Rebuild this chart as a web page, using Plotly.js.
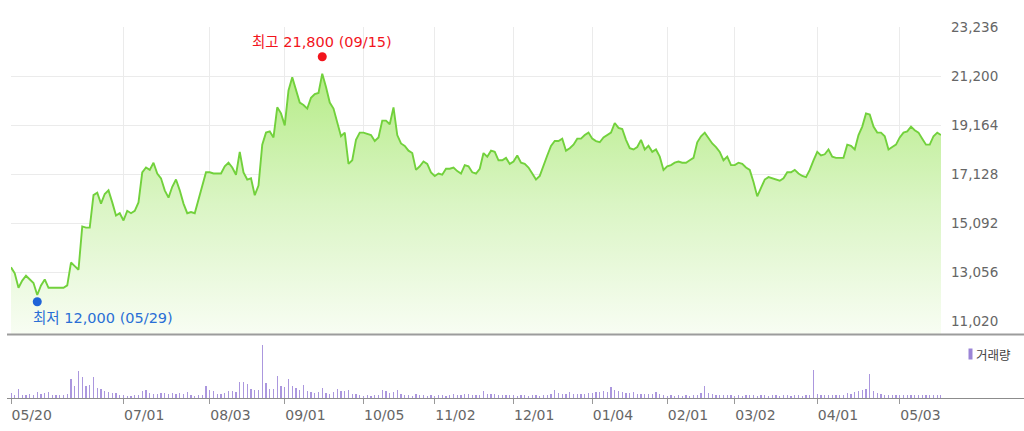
<!DOCTYPE html>
<html>
<head>
<meta charset="utf-8">
<script src="https://cdn.plot.ly/plotly-3.0.1.min.js"></script>
<style>
  html, body { margin: 0; padding: 0; background: #ffffff; }
  #chart { width: 1024px; height: 431px; }
</style>
</head>
<body>
<div id="chart"></div>
<script>
// ---- data ----
// x axis: trading-day index (0 = 05/20)
const tickIdx    = [0, 30, 53, 73, 94, 113, 134, 155, 175, 193, 215, 237];
const tickLabels = ['05/20','07/01','08/03','09/01','10/05','11/02','12/01','01/04','02/01','03/02','04/01','05/03'];

const yTicks = [11020, 13056, 15092, 17128, 19164, 21200, 23236];

// daily closing price
const closePrice = [
  13250,13000,12400,12700,12900,12750,12600,12100,12500,12750,
  12400,12400,12400,12400,12400,12500,13450,13300,13150,14950,
  14900,14900,16250,16350,15900,16300,16450,15950,15400,15500,
  15200,15600,15500,15600,15950,17200,17400,17300,17600,17150,
  16950,16450,16150,16600,16900,16450,15900,15500,15550,15500,
  16050,16650,17200,17200,17150,17150,17150,17450,17600,17400,
  17100,18050,17200,16900,16950,16250,16650,18350,18850,18900,
  18650,19900,19650,19150,20600,21150,20600,20100,20000,19850,
  20300,20450,20500,21300,20750,20100,19850,19300,18700,18850,
  17550,17700,18550,18850,18850,18800,18750,18500,18650,19350,
  19350,19200,19900,18750,18400,18300,18100,18000,17300,17450,
  17650,17550,17200,17050,17150,17100,17350,17350,17400,17250,
  17150,17500,17450,17200,17150,17350,18000,17850,18100,18050,
  17700,17700,17800,17550,17650,17900,17600,17550,17400,17150,
  16900,17050,17500,17900,18300,18500,18500,18600,18100,18200,
  18350,18600,18600,18750,18850,18600,18500,18450,18650,18750,
  18850,19250,19050,19000,18550,18200,18150,18250,18550,18150,
  18300,18050,18150,17850,17300,17450,17500,17600,17650,17600,
  17600,17700,17800,18450,18700,18850,18600,18400,18250,18050,
  17700,17850,17500,17500,17600,17550,17400,17300,16800,16200,
  16550,16900,17000,16950,16900,16850,16950,17200,17200,17300,
  17150,17050,17000,17300,17700,18050,17900,17950,18150,17850,
  17800,17800,17800,18350,18300,18150,18750,19100,19650,19600,
  19100,18850,18850,18700,18150,18250,18350,18650,18850,18900,
  19100,18950,18850,18600,18350,18350,18700,18850,18750
];

// daily volume (relative units)
const volume = [
  5,3,9,3,3,4,3,6,4,5,
  6,3,3,3,3,4,19,12,27,21,
  12,13,21,10,9,7,6,5,5,3,
  3,2,2,3,3,7,8,5,4,4,
  5,5,4,5,4,5,4,6,3,2,
  3,3,12,8,7,4,4,5,7,7,
  6,16,16,14,9,8,8,53,15,9,
  9,22,12,11,19,12,10,8,13,7,
  6,5,6,10,5,4,6,9,7,7,
  8,4,4,3,2,3,2,3,3,8,
  7,5,6,8,4,3,3,2,4,3,
  3,2,3,2,3,3,2,3,4,3,
  3,4,4,3,3,3,7,4,4,4,
  3,3,3,3,3,2,3,3,2,3,
  3,2,3,3,4,8,5,4,4,6,
  4,4,4,4,5,5,6,6,7,6,
  11,8,7,6,5,5,6,4,4,4,
  4,4,6,4,3,2,3,2,3,2,
  3,2,3,3,5,12,5,4,3,3,
  3,3,3,2,3,2,3,3,3,2,
  3,3,2,3,3,2,3,3,2,3,
  3,2,3,3,28,4,3,3,3,3,
  3,3,3,5,4,6,7,8,9,24,
  7,5,4,3,3,3,3,3,3,3,
  3,3,3,3,3,3,3,3,3
];

const highValue = 21800, highDate = '09/15';
const lowValue  = 12000, lowDate  = '05/29';
const volumeLabel = '거래량';

// ---- build chart ----
const idx = closePrice.map((_, i) => i);
const hiIdx = closePrice.indexOf(Math.max(...closePrice));
const loIdx = closePrice.indexOf(Math.min(...closePrice));
const fmt = v => v.toLocaleString('en-US');

const PL = 11, PR = 941, PT = 27, PB = 398;     // plot box in px
const PW = PR - PL, PH = PB - PT;
const px2paperX = x => (x - PL) / PW;
const px2paperY = y => (PB - y) / PH;

const priceTrace = {
  type: 'scatter', mode: 'lines',
  x: idx, y: closePrice, xaxis: 'x', yaxis: 'y',
  line: { color: '#72d13c', width: 1.9, shape: 'linear' },
  fill: 'tozeroy',
  fillgradient: {
    type: 'vertical',
    start: 10480, stop: 21300,
    colorscale: [[0, 'rgb(248,253,243)'], [0.5, 'rgb(218,245,196)'], [1, 'rgb(182,236,136)']]
  },
  hoverinfo: 'skip'
};

const volTrace = {
  type: 'bar', x: idx, y: volume, xaxis: 'x2', yaxis: 'y2',
  width: 0.38,
  marker: { color: '#ab97de', line: { width: 0 } },
  hoverinfo: 'skip'
};

const axFont = { family: 'DejaVu Sans, Noto Sans', size: 14, color: '#666' };

const layout = {
  width: 1024, height: 431,
  margin: { l: PL, r: 1024 - PR, t: PT, b: 431 - PB, pad: 0 },
  paper_bgcolor: '#ffffff', plot_bgcolor: 'rgba(0,0,0,0)',
  showlegend: false,
  bargap: 0,
  xaxis: {
    anchor: 'y', range: [0, 248], tickmode: 'array', tickvals: tickIdx, ticktext: tickLabels,
    showticklabels: false, ticks: '', showgrid: true, gridcolor: '#ebebeb', gridwidth: 1,
    zeroline: false, showline: false, fixedrange: true
  },
  yaxis: {
    domain: [px2paperY(334), 1], range: [10480, 23240], side: 'right',
    tickmode: 'array', tickvals: yTicks, tickformat: ',d',
    showgrid: true, gridcolor: '#ebebeb', gridwidth: 1, zeroline: false, showline: false,
    ticks: '', ticklabelstandoff: 9,
    tickfont: { family: 'DejaVu Sans, Noto Sans', size: 13.5, color: '#666' }, fixedrange: true
  },
  xaxis2: {
    anchor: 'y2', matches: 'x', range: [0, 248], tickmode: 'array', tickvals: tickIdx, ticktext: tickLabels,
    ticks: 'outside', ticklen: 5, tickwidth: 1, tickcolor: '#999',
    ticklabelposition: 'outside right', ticklabelstandoff: 4,
    showgrid: false, zeroline: false, showline: false, tickfont: axFont, fixedrange: true
  },
  yaxis2: {
    domain: [0, px2paperY(339)], range: [0, 59], visible: false, fixedrange: true
  },
  shapes: [
    { type: 'line', xref: 'paper', yref: 'paper', x0: px2paperX(7), x1: px2paperX(1024),
      y0: px2paperY(334.5), y1: px2paperY(334.5), line: { color: '#9c9c9c', width: 2 }, layer: 'above' },
    { type: 'line', xref: 'paper', yref: 'paper', x0: px2paperX(7), x1: px2paperX(1024),
      y0: px2paperY(398.5), y1: px2paperY(398.5), line: { color: '#8c8c8c', width: 1 }, layer: 'above' },
    { type: 'circle', xref: 'x', yref: 'y', xsizemode: 'pixel', ysizemode: 'pixel',
      xanchor: hiIdx, yanchor: highValue, x0: -4.5, x1: 4.5, y0: 0.4, y1: 9.4,
      fillcolor: '#f2141c', line: { width: 0 }, layer: 'above' },
    { type: 'circle', xref: 'x', yref: 'y', xsizemode: 'pixel', ysizemode: 'pixel',
      xanchor: loIdx, yanchor: lowValue, x0: -4.5, x1: 4.5, y0: -8.8, y1: 0.2,
      fillcolor: '#1f64d8', line: { width: 0 }, layer: 'above' },
    { type: 'rect', xref: 'paper', yref: 'paper', x0: px2paperX(968.5), x1: px2paperX(972.5),
      y0: px2paperY(359.5), y1: px2paperY(348.5), fillcolor: '#9b84d6', line: { width: 0 } }
  ],
  annotations: [
    { xref: 'x', yref: 'y', x: hiIdx, y: highValue, showarrow: false,
      text: '최고 ' + fmt(highValue) + ' (' + highDate + ')',
      xanchor: 'center', yanchor: 'middle', yshift: 19.6,
      font: { family: 'DejaVu Sans, Noto Sans CJK KR', size: 14.5, color: '#f2141c' } },
    { xref: 'x', yref: 'y', x: loIdx, y: lowValue, showarrow: false,
      text: '최저 ' + fmt(lowValue) + ' (' + lowDate + ')',
      xanchor: 'left', yanchor: 'middle', xshift: -6, yshift: -20.6,
      font: { family: 'DejaVu Sans, Noto Sans CJK KR', size: 14.5, color: '#2a6fd6' } },
    { xref: 'paper', yref: 'paper', x: px2paperX(974), y: px2paperY(354), showarrow: false,
      text: volumeLabel, xanchor: 'left', yanchor: 'middle',
      font: { family: 'Noto Sans CJK KR', size: 12.5, color: '#444' } }
  ]
};

Plotly.newPlot('chart', [priceTrace, volTrace], layout, { displayModeBar: false, staticPlot: true });
</script>
</body>
</html>
